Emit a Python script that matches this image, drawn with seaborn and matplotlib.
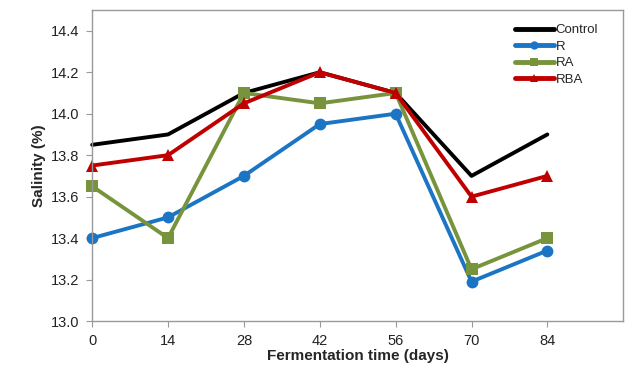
import matplotlib
matplotlib.use("Agg")
import matplotlib.pyplot as plt
import seaborn as sns
import pandas as pd

days = [0, 14, 28, 42, 56, 70, 84]
control = [13.85, 13.90, 14.10, 14.20, 14.10, 13.70, 13.90]
r_vals = [13.40, 13.50, 13.70, 13.95, 14.00, 13.19, 13.34]
ra_vals = [13.65, 13.40, 14.10, 14.05, 14.10, 13.25, 13.40]
rba_vals = [13.75, 13.80, 14.05, 14.20, 14.10, 13.60, 13.70]
series_names = ["Control", "R", "RA", "RBA"]

sns.set_style("white")
plt.rcParams['font.family'] = ['Liberation Sans', 'DejaVu Sans']

colors = ["#000000", "#1B75C4", "#77933C", "#C00000"]
markers = [None, "o", "s", "^"]

fig = plt.figure(figsize=(6.27, 3.72), dpi=100)
ax = fig.add_axes([0.147, 0.137, 0.847, 0.836])

for name, vals, c, m in zip(series_names, [control, r_vals, ra_vals, rba_vals], colors, markers):
    df = pd.DataFrame({"day": days, "salinity": vals})
    kw = dict(marker=m, markersize=8.5, markeredgewidth=0) if m else {}
    sns.lineplot(data=df, x="day", y="salinity", color=c, linewidth=2.8,
                 label=name, ax=ax, clip_on=False, **kw)

ax.set_xlim(0, 98)
ax.set_ylim(13.0, 14.5)
ax.set_xticks(days)
yt = [13.0, 13.2, 13.4, 13.6, 13.8, 14.0, 14.2, 14.4]
ax.set_yticks(yt)
ax.set_yticklabels([f"{v:.1f}" for v in yt])
ax.tick_params(axis="both", labelsize=10.5, colors="#999999", length=4, width=0.8,
               direction="out", pad=5, bottom=True, left=True)
ax.tick_params(axis="both", labelcolor="#222222")
for s in ax.spines.values():
    s.set_color("#999999")
    s.set_linewidth(1.0)

ax.set_xlabel("Fermentation time (days)", fontsize=11, fontweight="bold", labelpad=1)
ax.set_ylabel("Salinity (%)", fontsize=11, fontweight="bold", labelpad=4)

leg = ax.legend(loc="upper right", frameon=False, fontsize=9.5, handlelength=3.0,
                handletextpad=0.1, labelspacing=0.33, borderaxespad=0.3,
                bbox_to_anchor=(0.97, 0.985))
for h in leg.legend_handles:
    h.set_linewidth(3.5)
    h.set_markersize(6)

fig.savefig("out.png", dpi=100)
